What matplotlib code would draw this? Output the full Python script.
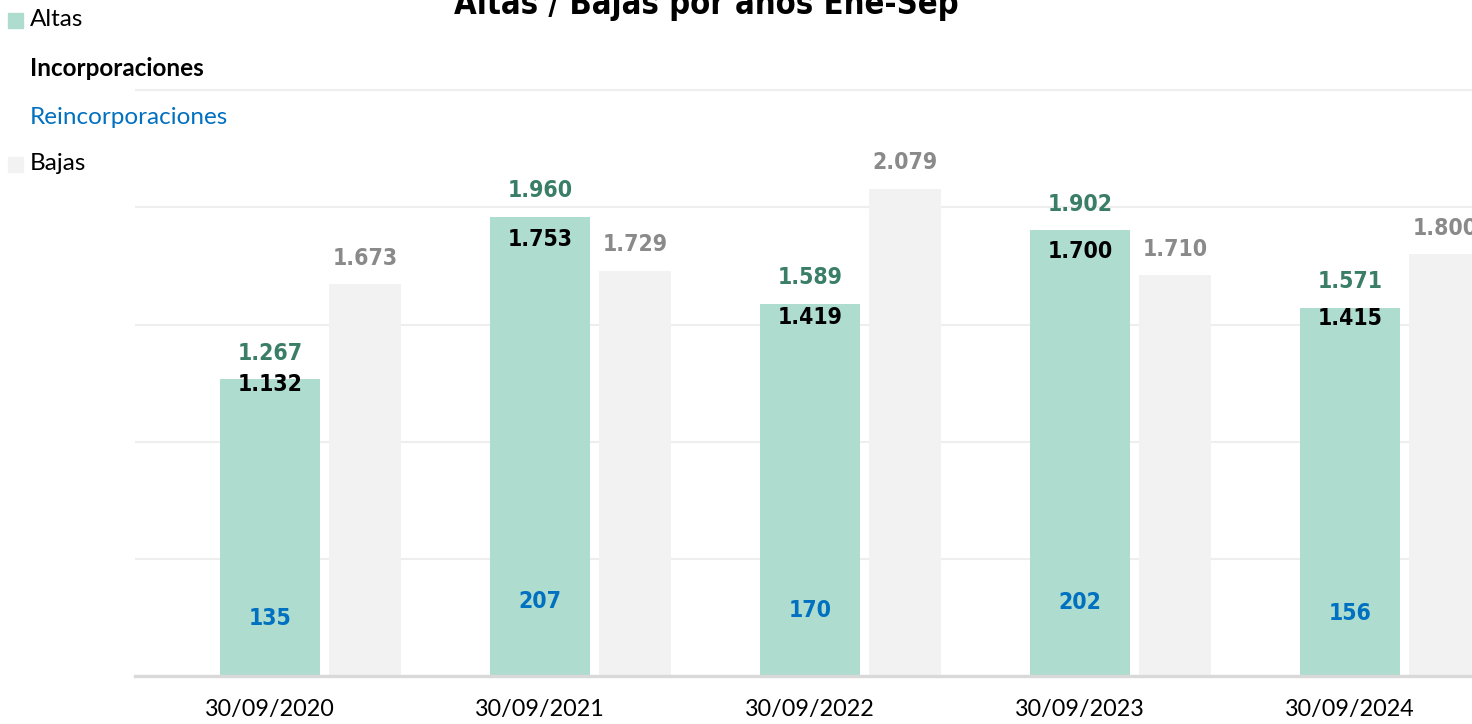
import numpy as np
import matplotlib.pyplot as plt
from matplotlib.patches import Rectangle

dates = ['30/09/2020', '30/09/2021', '30/09/2022', '30/09/2023', '30/09/2024']
altas = [1267, 1960, 1589, 1902, 1571]
incorporaciones = [1132, 1753, 1419, 1700, 1415]
reincorporaciones = [135, 207, 170, 202, 156]
bajas = [1673, 1729, 2079, 1710, 1800]

c_altas = '#aedccf'
c_bajas = '#f2f2f2'
c_green = '#3a7e68'
c_blue = '#0070c0'
c_gray = '#8a8a8a'

narrow = ['DejaVu Sans']
plain = ['Lato', 'DejaVu Sans']

fig = plt.figure(figsize=(14.72, 7.24), dpi=100)
ax = fig.add_axes([135/1472, 48/724, 1 - 135/1472, 676/724])

x = np.arange(len(dates))
ax.bar(x, altas, width=0.37, color=c_altas, zorder=2)
ax.bar(x + 0.352, bajas, width=0.27, color=c_bajas, zorder=2)

ax.set_xlim(-0.5, 4.452)
ax.set_ylim(0, 2885)
ax.set_yticks([500, 1000, 1500, 2000, 2500])
ax.yaxis.grid(True, color='#eeeeee', linewidth=1.5, zorder=0)
ax.tick_params(axis='y', left=False, labelleft=False)
ax.tick_params(axis='x', bottom=False, pad=13)
ax.set_xticks(x)
ax.set_xticklabels(dates, fontsize=16.8, family=plain)
for s in ['top', 'right', 'left']:
    ax.spines[s].set_visible(False)
ax.spines['bottom'].set_color('#d9d9d9')
ax.spines['bottom'].set_linewidth(2.4)


def fmt(v):
    return f'{v:,}'.replace(',', '.')


def label(xp, v, color):
    ax.annotate(fmt(v), (xp, v), xytext=(0, 18.7), textcoords='offset points',
                ha='center', va='center', fontsize=16.5, fontweight='bold',
                fontstretch='condensed', color=color, family=narrow, zorder=3,
                annotation_clip=False)


for i in range(len(dates)):
    label(x[i], altas[i], c_green)
    label(x[i], incorporaciones[i], 'black')
    label(x[i], reincorporaciones[i], c_blue)
    label(x[i] + 0.352, bajas[i], c_gray)

fig.text(0.48, 1 - 14/724, 'Altas / Bajas por años Ene-Sep', ha='center',
         va='baseline', fontsize=23.5, fontweight='bold', fontstretch='condensed',
         family=narrow)

# legend
items = [('Altas', c_altas, 'black', 'normal', 20),
         ('Incorporaciones', None, 'black', 'bold', 69),
         ('Reincorporaciones', None, c_blue, 'normal', 117),
         ('Bajas', c_bajas, 'black', 'normal', 164)]
for txt, mc, tc, fw, yp in items:
    if mc is not None:
        fig.patches.append(Rectangle((8/1472, 1 - (yp + 7.5)/724), 15/1472, 15/724,
                                     transform=fig.transFigure, color=mc))
    fig.text(30/1472, 1 - yp/724, txt, ha='left', va='center', fontsize=17.5,
             fontweight=fw, color=tc, family=plain)

fig.savefig('out.png', dpi=100)
